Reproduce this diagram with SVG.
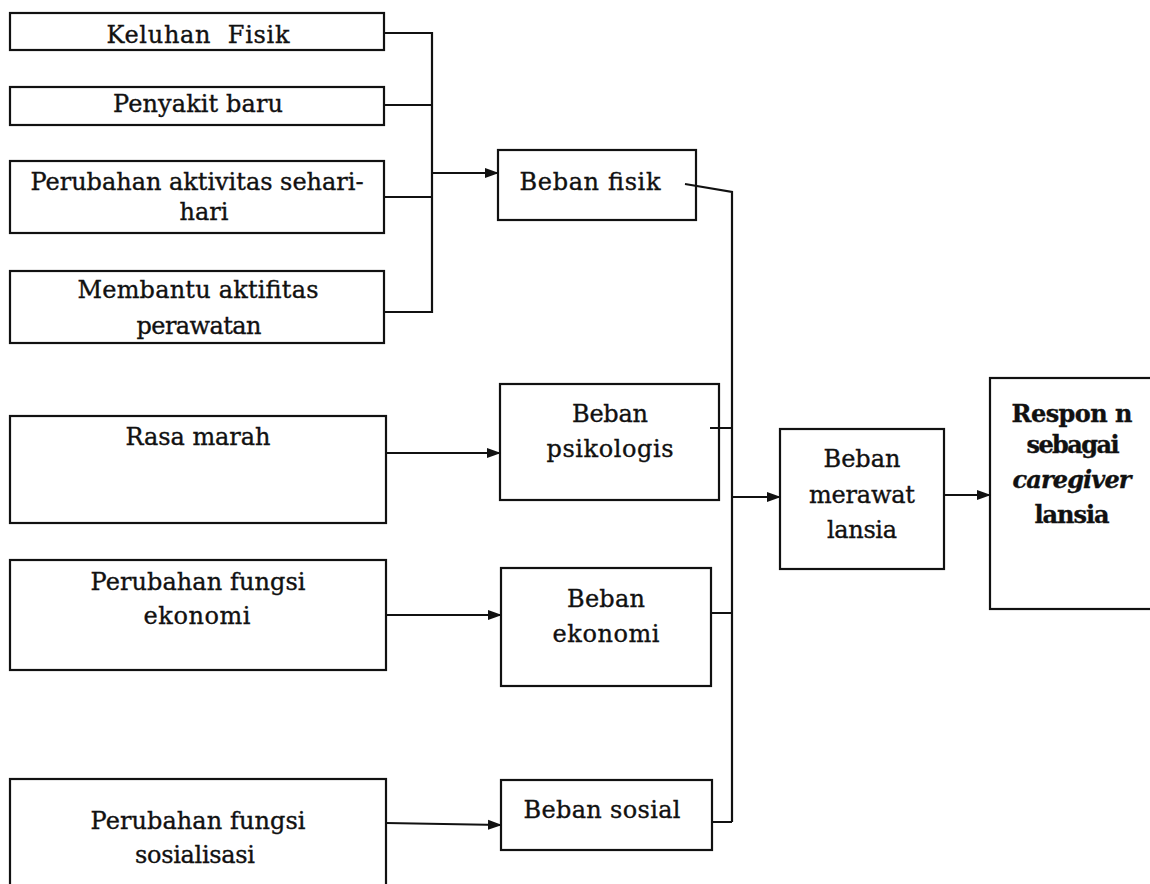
<svg xmlns="http://www.w3.org/2000/svg" width="1150" height="884" viewBox="0 0 1150 884">
<style>
.box{fill:#fff;stroke:#111;stroke-width:2.2}
.ln{fill:none;stroke:#111;stroke-width:2.2}
.t{font-family:"DejaVu Serif","Liberation Serif",serif;font-size:24px;fill:#111;stroke:#111;stroke-width:0.35;text-anchor:middle}
.b{font-weight:bold}
.i{font-style:italic}
</style>
<defs>
<marker id="arr" markerUnits="userSpaceOnUse" markerWidth="14" markerHeight="12" refX="13" refY="6" orient="auto">
<path d="M0,1 L14,6 L0,11 Z" fill="#111"/>
</marker>
</defs>
<rect width="1150" height="884" fill="#fff"/>
<g id="n-keluhan"><rect class="box" x="10" y="13" width="374" height="37"/><text class="t" x="198" y="43" textLength="183" style="white-space:pre">Keluhan  Fisik</text></g>
<g id="n-penyakit"><rect class="box" x="10" y="87" width="374" height="38"/><text class="t" x="198" y="112" textLength="170">Penyakit baru</text></g>
<g id="n-perubahan-aktivitas"><rect class="box" x="10" y="161" width="374" height="72"/><text class="t" x="197" y="190" textLength="333">Perubahan aktivitas sehari-</text><text class="t" x="204" y="220">hari</text></g>
<g id="n-membantu"><rect class="box" x="10" y="271" width="374" height="72"/><text class="t" x="198" y="298" textLength="241">Membantu aktifitas</text><text class="t" x="199" y="334" textLength="125">perawatan</text></g>
<g id="n-rasa-marah"><rect class="box" x="10" y="416" width="376" height="107"/><text class="t" x="198" y="445" textLength="145">Rasa marah</text></g>
<g id="n-fungsi-ekonomi"><rect class="box" x="10" y="560" width="376" height="110"/><text class="t" x="198" y="590" textLength="215">Perubahan fungsi</text><text class="t" x="197" y="624" textLength="107">ekonomi</text></g>
<g id="n-fungsi-sosialisasi"><rect class="box" x="10" y="779" width="376" height="130"/><text class="t" x="198" y="829" textLength="215">Perubahan fungsi</text><text class="t" x="195" y="863" textLength="120">sosialisasi</text></g>
<g id="n-beban-fisik"><rect class="box" x="498" y="150" width="198" height="70"/><text class="t" x="590" y="190" textLength="141">Beban fisik</text></g>
<g id="n-beban-psikologis"><rect class="box" x="500" y="384" width="219" height="116"/><text class="t" x="610" y="422" textLength="76">Beban</text><text class="t" x="610" y="457" textLength="127">psikologis</text></g>
<g id="n-beban-ekonomi"><rect class="box" x="501" y="568" width="210" height="118"/><text class="t" x="606" y="607" textLength="78">Beban</text><text class="t" x="606" y="642" textLength="107">ekonomi</text></g>
<g id="n-beban-sosial"><rect class="box" x="501" y="780" width="211" height="70"/><text class="t" x="602" y="818" textLength="157">Beban sosial</text></g>
<g id="n-beban-merawat"><rect class="box" x="780" y="429" width="164" height="140"/><text class="t" x="862" y="467" textLength="77">Beban</text><text class="t" x="862" y="503" textLength="106">merawat</text><text class="t" x="862" y="538" textLength="70">lansia</text></g>
<g id="n-respon"><rect class="box" x="990" y="378" width="180" height="231"/><text class="t b" x="1072" y="422" textLength="121">Respon n</text><text class="t b" x="1073" y="453" textLength="93">sebagai</text><text class="t b i" x="1072" y="488" textLength="119">caregiver</text><text class="t b" x="1072" y="523" textLength="75">lansia</text></g>
<g id="connectors">
<path class="ln" d="M384,33 H432 M384,105 H432 M384,197 H432 M384,312 H432 M432,32 V313"/>
<path class="ln" d="M432,173 H498" marker-end="url(#arr)"/>
<path class="ln" d="M685,184 L732,192 V822 M710,428 H732 M711,613 H732 M712,822 H732"/>
<path class="ln" d="M386,453 H500" marker-end="url(#arr)"/>
<path class="ln" d="M386,615 H501" marker-end="url(#arr)"/>
<path class="ln" d="M386,823 L501,825" marker-end="url(#arr)"/>
<path class="ln" d="M732,497 H780" marker-end="url(#arr)"/>
<path class="ln" d="M944,495 H990" marker-end="url(#arr)"/>
</g>
</svg>
